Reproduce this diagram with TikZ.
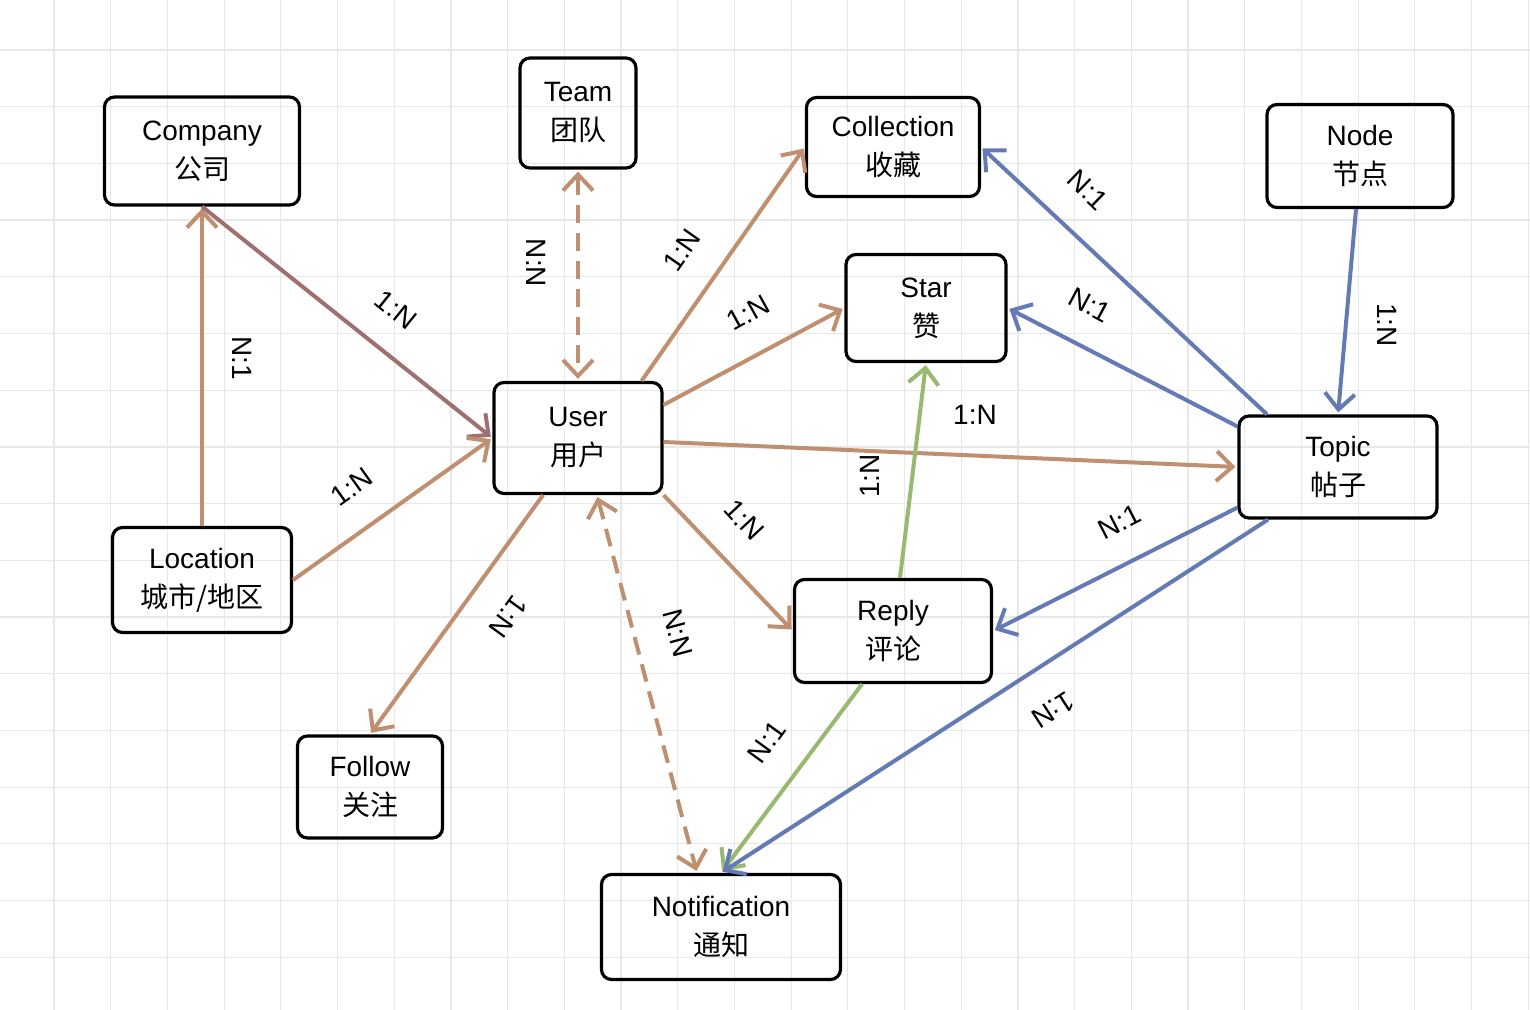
\documentclass[tikz,border=0pt]{standalone}
\usepackage{fontspec}
\setmainfont{Liberation Sans}
\newfontfamily\cjk{Noto Sans CJK SC}
\usetikzlibrary{arrows.meta}
\definecolor{gridc}{RGB}{232,232,232}
\definecolor{brn}{RGB}{191,143,111}
\definecolor{mauve}{RGB}{160,112,112}
\definecolor{blu}{RGB}{100,122,180}
\definecolor{grn}{RGB}{152,186,112}
\begin{document}
\begin{tikzpicture}[x=0.5pt,y=-0.5pt,
  box/.style={draw=black, line width=1.6pt, rounded corners=5pt, align=center,
    font=\fontsize{14}{19.5}\selectfont, inner sep=0pt},
  conn/.style={line width=2pt, -{Straight Barb[length=8pt,width=15pt,line width=2pt]}, shorten >=1pt},
  biconn/.style={line width=2pt, dash pattern=on 9pt off 5pt,
    {Straight Barb[length=8pt,width=15pt,line width=2pt]}-{Straight Barb[length=8pt,width=15pt,line width=2pt]},
    shorten >=1pt, shorten <=1pt},
  lbl/.style={font=\fontsize{14}{16}\selectfont, inner sep=0pt}
]
\fill[white] (0,0) rectangle (1530,1010);
\useasboundingbox (0,0) rectangle (1530,1010);
\foreach \i in {0,...,26} \draw[gridc, line width=0.6pt] ({54+56.7*\i},0) -- ({54+56.7*\i},1010);
\foreach \j in {0,...,17} \draw[gridc, line width=0.6pt] (0,{50+56.7*\j}) -- (1530,{50+56.7*\j});

% nodes
\node[box, minimum width=97.5pt, minimum height=54pt] (company) at (202,151) {Company\\{\cjk 公司}};
\node[box, minimum width=58pt, minimum height=55pt] (team) at (578,113) {Team\\{\cjk 团队}};
\node[box, minimum width=86.5pt, minimum height=49.5pt] (collection) at (893,147) {Collection\\{\cjk 收藏}};
\node[box, minimum width=93pt, minimum height=51.5pt] (nodeb) at (1360,156) {Node\\{\cjk 节点}};
\node[box, minimum width=80pt, minimum height=53.5pt] (star) at (926,308) {Star\\{\cjk 赞}};
\node[box, minimum width=84pt, minimum height=55.5pt] (user) at (578,438) {User\\{\cjk 用户}};
\node[box, minimum width=99pt, minimum height=51pt] (topic) at (1338,467) {Topic\\{\cjk 帖子}};
\node[box, minimum width=89.5pt, minimum height=52.5pt] (location) at (202,580) {Location\\{\cjk 城市/地区}};
\node[box, minimum width=98.5pt, minimum height=51.5pt] (reply) at (893,631) {Reply\\{\cjk 评论}};
\node[box, minimum width=72.5pt, minimum height=51pt] (follow) at (370,787) {Follow\\{\cjk 关注}};
\node[box, minimum width=119.5pt, minimum height=52.5pt] (notif) at (721,927) {Notification\\{\cjk 通知}};

% connectors
\draw[conn, brn] (location.north) -- (company.south);
\draw[conn, mauve] (company.south) -- (user.west);
\draw[biconn, brn] (team.south) -- (user.north);
\draw[conn, brn] ([xshift=-11pt]user.north east) -- (collection.west);
\draw[conn, brn] ([yshift=-12pt]user.north east) -- (star.west);
\draw[conn, brn] ([yshift=-2pt]user.east) -- (topic.west);
\draw[conn, brn] (user.south east) -- (reply.west);
\draw[conn, brn] ([xshift=-17.5pt]user.south) -- (follow.north);
\draw[biconn, brn] ([xshift=9.5pt]user.south) -- ([xshift=-12pt]notif.north);
\draw[conn, brn] (location.east) -- (user.west);
\draw[conn, grn] ([xshift=3.5pt]reply.north) -- (star.south);
\draw[conn, grn] ([xshift=-15.5pt]reply.south) -- (notif.north);
\draw[conn, blu] ([xshift=-35.5pt]topic.north) -- (collection.east);
\draw[conn, blu] ([yshift=-6pt]topic.north west) -- (star.east);
\draw[conn, blu] ([xshift=-2pt]nodeb.south) -- (topic.north);
\draw[conn, blu] ([yshift=6pt]topic.south west) -- (reply.east);
\draw[conn, blu] ([xshift=-35pt]topic.south) -- (notif.north);

% labels
\node[lbl, rotate=-90] (l1) at (242,358) {N:1};
\node[lbl, rotate=-38.7] (l2) at (396,310) {1:N};
\node[lbl, rotate=-90] (l3) at (536,263) {N:N};
\node[lbl, rotate=55] (l4) at (682,250) {1:N};
\node[lbl, rotate=29] (l5) at (748,313) {1:N};
\node[lbl, rotate=90] (l6) at (870,476) {1:N};
\node[lbl, rotate=-47] (l7) at (744,520) {1:N};
\node[lbl, rotate=-126] (l8) at (508,617) {1:N};
\node[lbl, rotate=-75] (l9) at (678,633) {N:N};
\node[lbl, rotate=35.5] (l10) at (352,487) {1:N};
\node[lbl] (l11) at (975,415) {1:N};
\node[lbl, rotate=54] (l12) at (767,742) {N:1};
\node[lbl, rotate=-44] (l13) at (1088,190) {N:1};
\node[lbl, rotate=-28] (l14) at (1090,305) {N:1};
\node[lbl, rotate=-90] (l15) at (1387,325) {1:N};
\node[lbl, rotate=27] (l16) at (1120,522) {N:1};
\node[lbl, rotate=-147] (l17) at (1053,710) {1:N};
\end{tikzpicture}
\end{document}
